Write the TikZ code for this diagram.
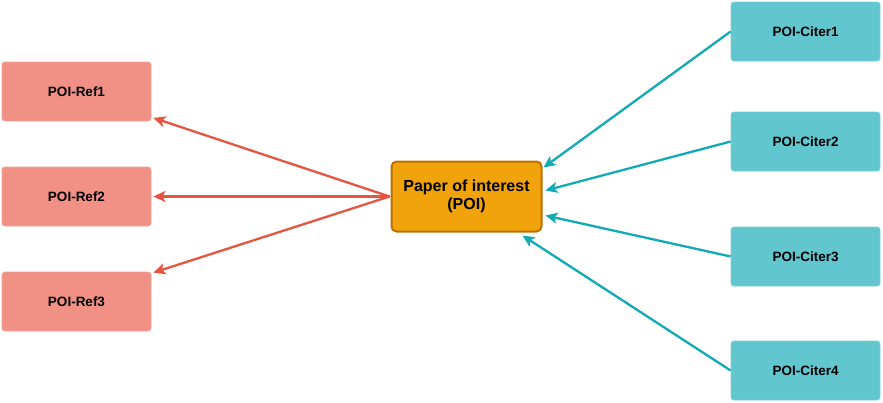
\documentclass[tikz,border=0pt]{standalone}
\usepackage{fontspec}
\setmainfont{Liberation Sans}
\usetikzlibrary{arrows.meta}
\definecolor{reffill}{HTML}{F19084}
\definecolor{refline}{HTML}{E5553F}
\definecolor{citfill}{HTML}{61C6CE}
\definecolor{citline}{HTML}{12AAB5}
\definecolor{poifill}{HTML}{F0A30A}
\definecolor{poiedge}{HTML}{BD7000}
\tikzset{
  refbox/.style={draw=reffill!85!white, line width=0.8pt, fill=reffill, rounded corners=3pt,
    minimum width=149pt, minimum height=59pt, inner sep=0pt,
    font=\fontsize{13.5}{15}\selectfont\bfseries},
  citbox/.style={draw=citfill!85!white, line width=0.8pt, fill=citfill, rounded corners=3pt,
    minimum width=149pt, minimum height=59pt, inner sep=0pt,
    font=\fontsize{13.5}{15}\selectfont\bfseries},
  poibox/.style={draw=poiedge, line width=2pt, fill=poifill, rounded corners=5pt,
    minimum width=150pt, minimum height=70pt, inner sep=0pt, align=center,
    font=\fontsize{16}{18.5}\selectfont\bfseries},
  refarrow/.style={draw=refline, line width=2.3pt, -{Stealth[length=12pt,width=11pt,inset=3pt]}},
  citarrow/.style={draw=citline, line width=2.3pt, -{Stealth[length=12pt,width=11pt,inset=3pt]}}
}
\begin{document}
\begin{tikzpicture}[x=1pt,y=-1pt]
\useasboundingbox (0,0) rectangle (883,402);
\node[refbox] (r1) at (76.5,91.5) {POI-Ref1};
\node[refbox] (r2) at (76.5,196.5) {POI-Ref2};
\node[refbox] (r3) at (76.5,301.5) {POI-Ref3};
\node[poibox] (poi) at (466.5,196.5) {Paper of interest\\(POI)};
\node[citbox] (c1) at (805.5,31.5) {POI-Citer1};
\node[citbox] (c2) at (805.5,141.5) {POI-Citer2};
\node[citbox] (c3) at (805.5,256.5) {POI-Citer3};
\node[citbox] (c4) at (805.5,370.5) {POI-Citer4};
\coordinate (t1) at ([xshift=2pt,yshift=3.5pt]r1.south east);
\coordinate (t2) at ([xshift=2pt]r2.east);
\coordinate (t3) at ([xshift=2pt,yshift=-1pt]r3.north east);
\draw[refarrow] ([xshift=-1pt]poi.west) -- (t1);
\draw[refarrow] ([xshift=-1pt]poi.west) -- (t2);
\draw[refarrow] ([xshift=-1pt]poi.west) -- (t3);
\coordinate (u1) at ([xshift=1pt,yshift=-7pt]poi.north east);
\coordinate (u2) at ([xshift=3pt,yshift=6pt]poi.east);
\coordinate (u3) at ([xshift=3pt,yshift=-19pt]poi.east);
\coordinate (u4) at ([xshift=56pt,yshift=-3pt]poi.south);
\draw[citarrow] (c1.west) -- (u1);
\draw[citarrow] (c2.west) -- (u2);
\draw[citarrow] (c3.west) -- (u3);
\draw[citarrow] (c4.west) -- (u4);
\end{tikzpicture}
\end{document}
